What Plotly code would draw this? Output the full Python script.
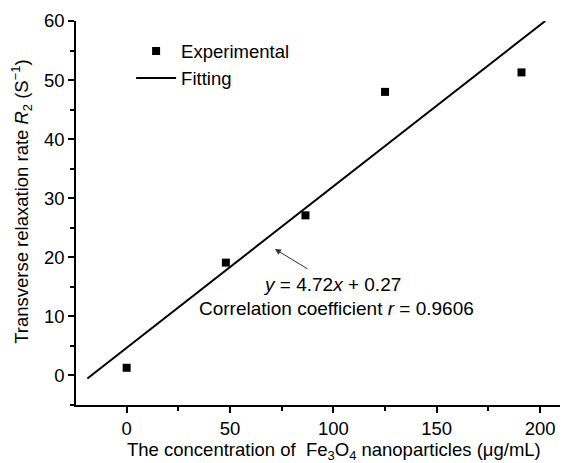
import plotly.graph_objects as go

# Data
exp_x = [0, 48, 86.5, 125, 191]
exp_y = [1.3, 19.1, 27.1, 48.0, 51.3]
fit_x = [-19, 202.5]
fit_y = [-0.5, 60]

x_ticks = [0, 50, 100, 150, 200]
y_ticks = [0, 10, 20, 30, 40, 50, 60]

x_title = "The concentration of  Fe<sub>3</sub>O<sub>4</sub> nanoparticles (μg/mL)"
y_title = "Transverse relaxation rate <i>R</i><sub>2</sub> (S<sup>−1</sup>)"

FONT = "Arial, Liberation Sans, sans-serif"

fig = go.Figure()
fig.add_trace(go.Scatter(x=exp_x, y=exp_y, mode="markers", name="Experimental",
                         marker=dict(symbol="square", size=8, color="black")))
fig.add_trace(go.Scatter(x=fit_x, y=fit_y, mode="lines", name="Fitting",
                         line=dict(color="black", width=2)))

fig.add_annotation(x=71.7, y=21.4, ax=88.2, ay=17.9, axref="x", ayref="y",
                   xref="x", yref="y", text="", showarrow=True,
                   arrowhead=2, arrowsize=1.2, arrowwidth=1, arrowcolor="#333")
fig.add_annotation(x=99.4, y=15.4, xref="x", yref="y", showarrow=False,
                   text="<i>y</i> = 4.72<i>x</i> + 0.27",
                   font=dict(family=FONT, size=19, color="black"))
fig.add_annotation(x=101.3, y=11.3, xref="x", yref="y", showarrow=False,
                   text="Correlation coefficient <i>r</i> = 0.9606",
                   font=dict(family=FONT, size=19, color="black"))

# Axis titles (placed as in the reference, slightly off-centre)
fig.add_annotation(x=0.524, y=-0.119, xref="paper", yref="paper", showarrow=False,
                   xanchor="center", yanchor="middle", text=x_title,
                   font=dict(family=FONT, size=18.5, color="black"))
fig.add_annotation(x=-0.111, y=0.53, xref="paper", yref="paper", showarrow=False,
                   xanchor="center", yanchor="middle", textangle=-90, text=y_title,
                   font=dict(family=FONT, size=18.5, color="black"))

axis_common = dict(showline=True, linecolor="black", linewidth=1.5,
                   ticks="outside", ticklen=6, tickwidth=1.5, tickcolor="black",
                   showgrid=False, zeroline=False, mirror=False, automargin=False,
                   tickfont=dict(family=FONT, size=18.5, color="black"))

fig.update_xaxes(range=[-24.5, 213.5], tickvals=x_ticks,
                 minor=dict(ticks="outside", ticklen=4, tickwidth=1.5, tickcolor="black", dtick=25, tick0=-25),
                 **axis_common)
fig.update_yaxes(range=[-5, 60], tickvals=y_ticks,
                 minor=dict(ticks="outside", ticklen=4, tickwidth=1.5, tickcolor="black", dtick=5, tick0=-5),
                 **axis_common)

# The page body adds an 8px margin, so the figure is sized 8px smaller
fig.update_layout(
    width=560, height=455,
    margin=dict(l=68, r=0, t=13, b=58),
    plot_bgcolor="white", paper_bgcolor="white",
    showlegend=True,
    legend=dict(x=0.112, y=0.97, xanchor="left", yanchor="top", itemwidth=40,
                bgcolor="rgba(0,0,0,0)", font=dict(family=FONT, size=18.5, color="black"),
                tracegroupgap=0),
)

fig.write_html("out.html")
